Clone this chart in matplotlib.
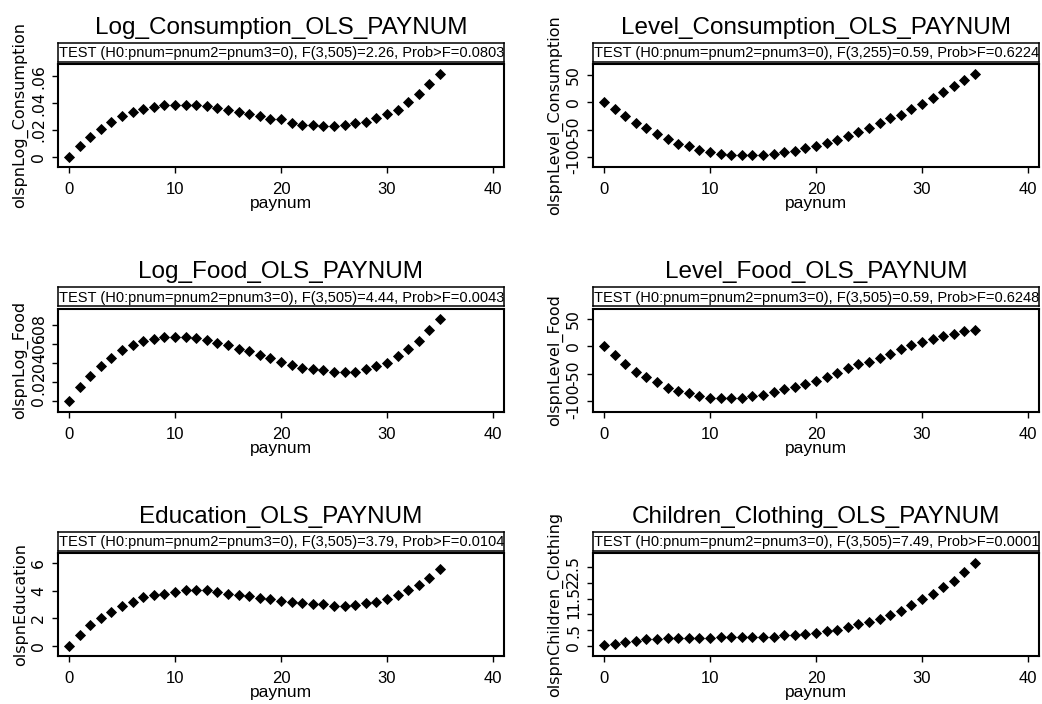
import numpy as np
import matplotlib
matplotlib.use("Agg")
import matplotlib.pyplot as plt

# paynum 0..35, predicted cubic effect
paynum = list(range(36))

log_consumption = [0.0, 0.0079, 0.0149, 0.021, 0.026, 0.0302, 0.0335, 0.0354, 0.0372, 0.0384,
                   0.0384, 0.0384, 0.0384, 0.0377, 0.0364, 0.0347, 0.0335, 0.0315, 0.0302, 0.0285,
                   0.0278, 0.0253, 0.024, 0.024, 0.0228, 0.0228, 0.024, 0.0253, 0.026, 0.0292,
                   0.0322, 0.0352, 0.0409, 0.0466, 0.054, 0.0615]
level_consumption = [0, -13, -25, -38.5, -48, -58, -67, -76.5, -81, -87,
                     -91.5, -94.5, -97.6, -97.6, -96.4, -96.4, -94.5, -91.5, -89.8, -84.3,
                     -79.5, -74.7, -69.3, -61.4, -53.6, -46.4, -38.5, -29.5, -22.3, -12,
                     -2.4, 9, 19.9, 30.7, 41, 51.8]
log_food = [0.0, 0.0151, 0.0267, 0.0368, 0.046, 0.0537, 0.059, 0.0635, 0.066, 0.0677,
            0.0677, 0.0677, 0.0667, 0.065, 0.0618, 0.059, 0.0555, 0.053, 0.0484, 0.0456,
            0.0414, 0.0386, 0.0355, 0.0344, 0.0326, 0.0309, 0.0309, 0.0309, 0.0337, 0.0368,
            0.0407, 0.0474, 0.0548, 0.0632, 0.0748, 0.087]
level_food = [0, -15, -32.5, -46.4, -56.6, -65.7, -75.3, -81.3, -85.5, -90.4,
              -93.4, -93.4, -93.4, -93.4, -90.4, -88.6, -83.7, -78.3, -73.5, -68.7,
              -63.3, -55.4, -48.2, -40.4, -32.5, -28.3, -20.5, -13.3, -5.4, 3,
              7.8, 12.7, 18, 22.9, 27.7, 30.1]
education = [0.0, 0.78, 1.51, 2.0, 2.49, 2.9, 3.17, 3.51, 3.7, 3.78,
             3.9, 4.02, 4.02, 4.02, 3.9, 3.78, 3.7, 3.59, 3.46, 3.39,
             3.29, 3.17, 3.1, 3.02, 3.02, 2.9, 2.9, 2.98, 3.1, 3.17,
             3.41, 3.7, 4.02, 4.44, 4.93, 5.59]
children_clothing = [0.02, 0.07, 0.105, 0.15, 0.2, 0.2, 0.23, 0.23, 0.23, 0.23,
                     0.23, 0.28, 0.28, 0.28, 0.28, 0.28, 0.28, 0.34, 0.34, 0.37,
                     0.41, 0.46, 0.5, 0.6, 0.68, 0.76, 0.86, 0.99, 1.11, 1.29,
                     1.48, 1.66, 1.87, 2.08, 2.36, 2.63]

titles = ["Log_Consumption_OLS_PAYNUM", "Level_Consumption_OLS_PAYNUM",
          "Log_Food_OLS_PAYNUM", "Level_Food_OLS_PAYNUM",
          "Education_OLS_PAYNUM", "Children_Clothing_OLS_PAYNUM"]
ylabels = ["olspnLog_Consumption", "olspnLevel_Consumption",
           "olspnLog_Food", "olspnLevel_Food",
           "olspnEducation", "olspnChildren_Clothing"]
tests = ["TEST (H0:pnum=pnum2=pnum3=0), F(3,505)=2.26, Prob>F=0.0803",
         "TEST (H0:pnum=pnum2=pnum3=0), F(3,255)=0.59, Prob>F=0.6224",
         "TEST (H0:pnum=pnum2=pnum3=0), F(3,505)=4.44, Prob>F=0.0043",
         "TEST (H0:pnum=pnum2=pnum3=0), F(3,505)=0.59, Prob>F=0.6248",
         "TEST (H0:pnum=pnum2=pnum3=0), F(3,505)=3.79, Prob>F=0.0104",
         "TEST (H0:pnum=pnum2=pnum3=0), F(3,505)=7.49, Prob>F=0.0001"]
yticks = [[0, 0.02, 0.04, 0.06], [-100, -50, 0, 50],
          [0, 0.02, 0.04, 0.06, 0.08], [-100, -50, 0, 50],
          [0, 2, 4, 6], [0, 0.5, 1, 1.5, 2, 2.5]]
yticklabels = [["0", ".02", ".04", ".06"], ["-100", "-50", "0", "50"],
               ["0", ".02", ".04", ".06", ".08"], ["-100", "-50", "0", "50"],
               ["0", "2", "4", "6"], ["0", ".5", "1", "1.5", "2", "2.5"]]
xticks = [0, 10, 20, 30, 40]
xticklabels = ["0", "10", "20", "30", "40"]

series = [log_consumption, level_consumption, log_food, level_food,
          education, children_clothing]

W, H = 1042, 704

fig = plt.figure(figsize=(W / 100, H / 100), dpi=100)
fig.patch.set_facecolor("white")

col_left = [58, 593]
row_top = [64, 308.5, 553]
box_w, box_h = 446, 103

for i, y in enumerate(series):
    r, c = divmod(i, 2)
    left, top = col_left[c], row_top[r]

    ax = fig.add_axes([left / W, 1 - (top + box_h) / H, box_w / W, box_h / H])
    ax.plot(paynum, y, linestyle="none", marker="D", markersize=5.2,
            color="black", markeredgewidth=0.6)

    # stata-style range: data/ticks union plus a plot-region margin
    lo = min(min(y), yticks[i][0])
    hi = max(max(y), yticks[i][-1])
    pad = 0.125 * (hi - lo)
    ax.set_ylim(lo - pad, hi + pad)
    ax.set_xlim(-1.05, 41.05)

    ax.set_xticks(xticks, labels=xticklabels, fontsize=12, family="Liberation Sans")
    ax.set_yticks(yticks[i], labels=yticklabels[i], fontsize=11.3,
                  family="DejaVu Sans", rotation=90, va="center")
    ax.tick_params(axis="x", direction="out", length=4, width=1, pad=7)
    ax.tick_params(axis="y", direction="out", length=4, width=1, pad=4.7)
    for s in ax.spines.values():
        s.set_linewidth(1.5)

    ax.set_xlabel("paynum", fontsize=12.5, family="Liberation Sans")
    ax.xaxis.set_label_coords(0.5, -0.285)
    ax.set_ylabel(ylabels[i], fontsize=11.5, family="DejaVu Sans")
    ax.yaxis.set_label_coords(-0.067, 0.5)

    # test strip above the plot box
    st = fig.add_axes([left / W, 1 - (top - 2) / H, box_w / W, 19 / H])
    st.set_xticks([])
    st.set_yticks([])
    for s in st.spines.values():
        s.set_linewidth(1.1)
    st.text(0.002, 0.45, tests[i], transform=st.transAxes, ha="left", va="center",
            fontsize=10.5, family="Liberation Sans")

    fig.text((left + box_w / 2) / W, 1 - (top - 30) / H, titles[i],
             ha="center", va="baseline", fontsize=17.5, family="Liberation Sans")

fig.savefig("out.png", dpi=100, facecolor="white")
